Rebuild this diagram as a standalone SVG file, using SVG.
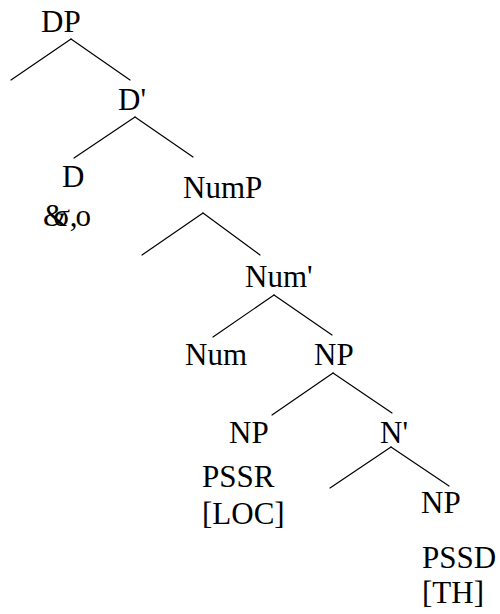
<svg xmlns="http://www.w3.org/2000/svg" width="500" height="614" viewBox="0 0 500 614" font-family="'Liberation Serif', 'Times New Roman', Times, serif" font-size="31">
  <style>
    .lbl { font-family: 'Liberation Serif', 'Times New Roman', Times, serif; font-size: 31px; fill: #000; }
    .edge { stroke: #000; stroke-width: 1.2; fill: none; stroke-linecap: round; }
  </style>
  <rect width="500" height="614" fill="#fff"/>

  <!-- branches of the tree -->
  <g id="connectors">
    <line class="edge" x1="71" y1="39" x2="11" y2="80"/>
    <line class="edge" x1="71" y1="39" x2="130" y2="80"/>
    <line class="edge" x1="135" y1="117" x2="74" y2="158"/>
    <line class="edge" x1="135" y1="117" x2="193" y2="157"/>
    <line class="edge" x1="203" y1="213" x2="142" y2="255"/>
    <line class="edge" x1="203" y1="213" x2="260" y2="255"/>
    <line class="edge" x1="274" y1="295" x2="213" y2="337"/>
    <line class="edge" x1="274" y1="295" x2="332" y2="335"/>
    <line class="edge" x1="333" y1="373" x2="272" y2="415"/>
    <line class="edge" x1="333" y1="373" x2="392" y2="413"/>
    <line class="edge" x1="391" y1="447" x2="330" y2="488"/>
    <line class="edge" x1="391" y1="447" x2="449" y2="486"/>
  </g>

  <g id="node-DP"><text class="lbl" x="41" y="32">DP</text></g>
  <g id="node-Dbar"><text class="lbl" x="118" y="110">D'</text></g>
  <g id="node-D">
    <text class="lbl" x="62" y="187">D</text>
    <!-- ampersand and sigma set tight so they overlap -->
    <text class="lbl" x="43" y="226" dx="0 -14 0 -2">&amp;σ,o</text>
  </g>
  <g id="node-NumP"><text class="lbl" x="183" y="198">NumP</text></g>
  <g id="node-Numbar"><text class="lbl" x="245" y="287">Num'</text></g>
  <g id="node-Num"><text class="lbl" x="185" y="365">Num</text></g>
  <g id="node-NP"><text class="lbl" x="314" y="365">NP</text></g>
  <g id="node-NP-PSSR">
    <text class="lbl" x="229" y="443">NP</text>
    <text class="lbl" x="202" y="487">PSSR</text>
    <text class="lbl" x="202" y="524">[LOC]</text>
  </g>
  <g id="node-Nbar"><text class="lbl" x="380" y="443">N'</text></g>
  <g id="node-NP-PSSD">
    <text class="lbl" x="421" y="513">NP</text>
    <text class="lbl" x="422" y="568">PSSD</text>
    <text class="lbl" x="422" y="603">[TH]</text>
  </g>
</svg>
